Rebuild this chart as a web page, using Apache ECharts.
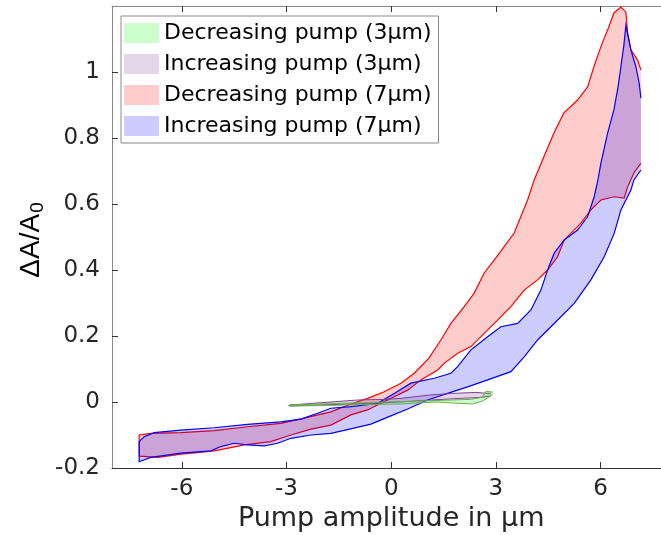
<!DOCTYPE html>
<html>
<head>
<meta charset="utf-8">
<script src="https://cdn.jsdelivr.net/npm/echarts@6.0.0/dist/echarts.min.js"></script>
<style>
html,body{margin:0;padding:0;background:#fff;}
#chart{width:661px;height:535px;}
</style>
</head>
<body>
<div id="chart"></div>
<script>
// ---- data (hysteresis loops: path goes right end -> upper branch -> left end -> lower branch -> right end)
const seriesNames = ['Decreasing pump (3μm)', 'Increasing pump (3μm)', 'Decreasing pump (7μm)', 'Increasing pump (7μm)'];
const xTickValues = [-6, -3, 0, 3, 6];
const yTickValues = [-0.2, 0, 0.2, 0.4, 0.6, 0.8, 1];
const xAxisTitle = 'Pump amplitude in μm';
const yAxisTitleMain = 'ΔA/A';
const yAxisTitleSub = '0';

const red7X = [7.155, 7.06, 6.868, 6.774, 6.725, 6.582,
  6.381, 6.201, 6.009, 5.808, 5.628, 5.341, 4.948, 4.662, 4.375, 4.097,
  3.908, 3.716, 3.524, 3.238, 2.951, 2.665, 2.378, 2.092, 1.711, 1.424,
  1.080, 0.659, 0.278, -0.201, -0.676, -1.155, -1.728, -2.493, -3.160, -4.115,
  -5.072, -6.026, -6.885, -7.221,
  -7.221, -6.693, -6.026, -5.072, -4.212, -3.447, -2.874, -2.301, -1.728, -1.155,
  -0.676, -0.295, 0.086, 0.470, 0.851, 1.330, 1.519, 1.903, 2.284, 2.665,
  3.049, 3.430, 3.811, 4.195, 4.481, 4.768, 4.957, 5.149, 5.436, 5.722,
  6.009, 6.390, 6.676, 6.774, 6.954, 7.155];
const red7Y = [1.006, 1.036, 1.067, 1.118, 1.182, 1.197,
  1.179, 1.127, 1.077, 1.016, 0.955, 0.915, 0.876, 0.815, 0.743, 0.673,
  0.612, 0.562, 0.512, 0.471, 0.430, 0.391, 0.330, 0.289, 0.238, 0.188,
  0.133, 0.087, 0.057, 0.031, 0.011, -0.006, -0.030, -0.049, -0.065, -0.075,
  -0.087, -0.093, -0.095, -0.100,
  -0.164, -0.168, -0.158, -0.148, -0.130, -0.120, -0.100, -0.082, -0.070, -0.039,
  -0.024, -0.004, 0.016, 0.036, 0.067, 0.097, 0.117, 0.148, 0.168, 0.208,
  0.248, 0.289, 0.339, 0.370, 0.400, 0.440, 0.491, 0.511, 0.542, 0.582,
  0.612, 0.622, 0.618, 0.652, 0.694, 0.724];

const blue7X = [7.155, 7.106, 7.011, 6.868, 6.782, 6.725, 6.668, 6.582, 6.496, 6.381,
  6.201, 6.009, 5.923, 5.817, 5.628, 5.341, 4.957, 4.670, 4.481, 4.289,
  4.003, 3.622, 3.143, 2.762, 2.284, 1.903, 1.711, 1.232, 0.564, 0.086,
  -0.390, -1.155, -1.728, -2.109, -2.587, -3.160, -4.115, -5.072, -6.026, -6.791,
  -7.077, -7.221,
  -7.221, -6.885, -6.026, -5.166, -4.880, -4.499, -4.115, -3.639, -3.255, -2.874,
  -2.301, -1.728, -1.069, -0.582, -0.009, 0.470, 1.043, 1.616, 2.189, 2.762,
  3.430, 3.811, 4.195, 4.670, 5.244, 5.722, 6.103, 6.390, 6.582, 6.868,
  6.954, 7.155];
const blue7Y = [0.921, 0.966, 1.016, 1.067, 1.112, 1.142, 1.082, 1.016, 0.952, 0.885,
  0.815, 0.724, 0.673, 0.622, 0.562, 0.521, 0.491, 0.451, 0.400, 0.339,
  0.279, 0.238, 0.228, 0.198, 0.158, 0.107, 0.087, 0.072, 0.057, 0.026,
  -0.004, -0.014, -0.019, -0.034, -0.052, -0.060, -0.068, -0.078, -0.085, -0.093,
  -0.105, -0.120,
  -0.181, -0.168, -0.155, -0.148, -0.135, -0.125, -0.130, -0.133, -0.125, -0.110,
  -0.100, -0.095, -0.079, -0.067, -0.042, -0.021, 0.006, 0.026, 0.046, 0.067,
  0.092, 0.137, 0.188, 0.238, 0.299, 0.370, 0.440, 0.511, 0.582, 0.642,
  0.673, 0.703];

const purple3X = [2.857, 2.656, 2.427, 1.759, 1.080, 0.278, -0.152, -0.963, -2.000, -2.731, -2.923,
  -2.923, -2.587, -1.728, -0.868, -0.152, 0.564, 1.137, 1.997, 2.570, 2.857];
const purple3Y = [0.026, 0.027, 0.029, 0.026, 0.021, 0.011, 0.008, 0.006, -0.002, -0.008, -0.009,
  -0.012, -0.011, -0.008, -0.005, -0.002, 0.002, 0.006, 0.011, 0.014, 0.018];

const green3X = [2.914, 2.713, 2.599, 2.284, 1.711, 0.851, -0.152, -1.155, -2.000, -2.731, -2.923,
  -2.923, -2.000, -0.868, 0.278, 1.281, 1.940, 2.332, 2.619, 2.799, 2.914];
const green3Y = [0.030, 0.032, 0.014, 0.008, 0.006, 0.003, 0.000, -0.003, -0.006, -0.008, -0.010,
  -0.012, -0.011, -0.008, -0.006, 0.000, -0.004, -0.006, 0.003, 0.015, 0.024];

// ---- styles
const FONT = 'DejaVu Sans';
const NAMEFONT = 'Liberation Sans';
const fills = ['rgba(0,255,0,0.2)', 'rgba(126,47,142,0.2)', 'rgba(255,0,0,0.2)', 'rgba(0,0,255,0.2)'];
const strokes = ['#6ab04a', '#7e3f98', '#ff0000', '#0000ff'];

function loopSeries(idx, xs, ys, lw) {
  const pts = xs.map((x, i) => [x, ys[i]]);
  return {
    type: 'custom',
    name: seriesNames[idx],
    coordinateSystem: 'cartesian2d',
    xAxisIndex: 0, yAxisIndex: 0,
    clip: true,
    silent: true,
    itemStyle: { color: fills[idx] },
    encode: { x: 0, y: 1 },
    data: pts,
    renderItem: function (params, api) {
      if (params.dataIndex !== 0) return null;
      const c = pts.map(p => api.coord(p));
      return {
        type: 'group',
        children: [
          { type: 'polygon', shape: { points: c }, style: { fill: fills[idx], stroke: null } },
          { type: 'polyline', shape: { points: c }, style: { fill: null, stroke: strokes[idx], lineWidth: lw } }
        ]
      };
    }
  };
}

const chart = echarts.init(document.getElementById('chart'), null, { renderer: 'canvas' });
chart.setOption({
  animation: false,
  backgroundColor: '#ffffff',
  grid: { left: 112, right: -9.4, top: 6, bottom: 67, outerBoundsMode: 'none', containLabel: false },
  graphic: [{
    type: 'text',
    x: 31, y: 240,
    rotation: Math.PI / 2,
    silent: true,
    style: {
      text: '{m|' + yAxisTitleMain + '}{s|' + yAxisTitleSub + '}',
      align: 'center', verticalAlign: 'middle',
      rich: {
        m: { fontFamily: NAMEFONT, fontSize: 28, color: '#262626', lineHeight: 30 },
        s: { fontFamily: NAMEFONT, fontSize: 19, color: '#262626', lineHeight: 30, padding: [14, 0, 0, 1] }
      }
    }
  }],
  legend: {
    left: 121, top: 16,
    orient: 'vertical',
    icon: 'rect',
    itemWidth: 35, itemHeight: 20, itemGap: 9,
    padding: [6, 7, 6, 3],
    backgroundColor: '#ffffff',
    borderColor: '#8a8a8a', borderWidth: 1,
    textStyle: { fontFamily: FONT, fontSize: 22, color: '#000', lineHeight: 22 },
    data: seriesNames.map((n, i) => ({ name: n, icon: 'rect', itemStyle: { color: fills[i], borderWidth: 0 } }))
  },
  xAxis: [{
    type: 'value', position: 'bottom', min: -8, max: 8,
    name: xAxisTitle, nameLocation: 'middle', nameGap: 33,
    nameTextStyle: { fontFamily: FONT, fontSize: 27, color: '#262626' },
    axisLine: { show: true, onZero: false, lineStyle: { color: '#333', width: 1 } },
    axisTick: { show: true, inside: true, length: 6, customValues: xTickValues, lineStyle: { color: '#333' } },
    axisLabel: { show: true, customValues: xTickValues, margin: 10, fontFamily: FONT, fontSize: 23, color: '#262626' },
    splitLine: { show: false }
  }, {
    type: 'value', position: 'top', min: -8, max: 8,
    axisLine: { show: true, onZero: false, lineStyle: { color: '#8a8a8a', width: 1 } },
    axisTick: { show: true, inside: true, length: 6, customValues: xTickValues, lineStyle: { color: '#333' } },
    axisLabel: { show: false },
    splitLine: { show: false }
  }],
  yAxis: [{
    type: 'value', min: -0.2, max: 1.2, interval: 0.2,
    axisLine: { show: true, onZero: false, lineStyle: { color: '#8a8a8a', width: 1 } },
    axisTick: { show: true, inside: true, length: 6, customValues: yTickValues, lineStyle: { color: '#333' } },
    axisLabel: { show: true, customValues: yTickValues, margin: 12, fontFamily: FONT, fontSize: 23, color: '#262626',
      formatter: v => String(Math.round(v * 10) / 10) },
    splitLine: { show: false }
  }],
  series: [
    loopSeries(2, red7X, red7Y, 1.2),
    loopSeries(3, blue7X, blue7Y, 1.2),
    loopSeries(1, purple3X, purple3Y, 1),
    loopSeries(0, green3X, green3Y, 1)
  ]
});
</script>
</body>
</html>
